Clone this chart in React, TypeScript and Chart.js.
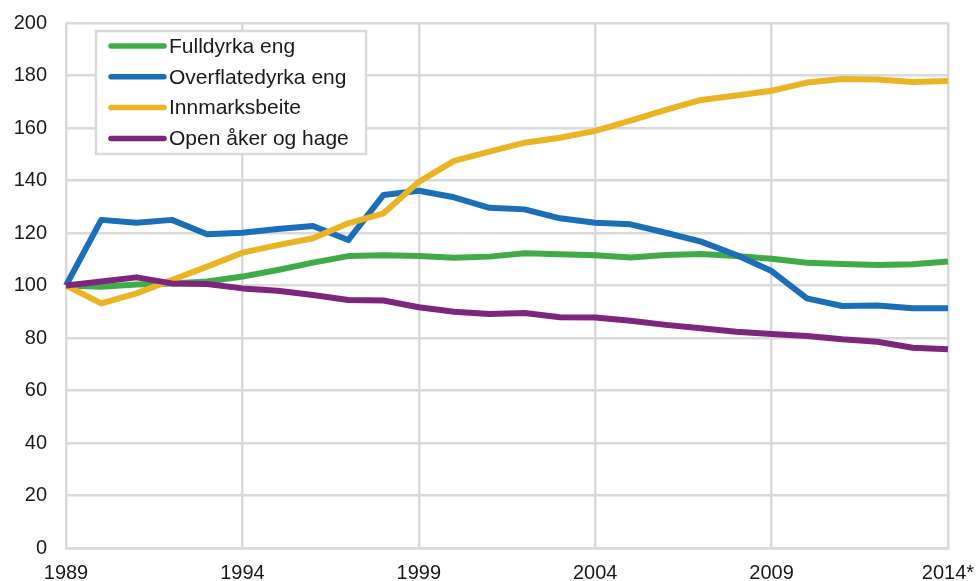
import React, { useEffect, useRef } from "react";
import { Chart, registerables } from "chart.js";

Chart.register(...registerables);

const years = [
  "1989", "1990", "1991", "1992", "1993", "1994", "1995", "1996", "1997", "1998",
  "1999", "2000", "2001", "2002", "2003", "2004", "2005", "2006", "2007", "2008",
  "2009", "2010", "2011", "2012", "2013", "2014*",
];

const seriesNames = ["Fulldyrka eng", "Overflatedyrka eng", "Innmarksbeite", "Open åker og hage"];

const fulldyrka = [100, 99.5, 100.4, 100.8, 101.5, 103.4, 105.9, 108.7, 111.2, 111.5, 111.2, 110.6, 111.0, 112.3, 111.9, 111.5, 110.7, 111.6, 112.0, 111.2, 110.2, 108.7, 108.2, 107.8, 108.1, 109.1];
const overflatedyrka = [100, 125, 123.9, 125, 119.5, 120.1, 121.5, 122.7, 117.3, 134.5, 136.1, 133.6, 129.6, 129.0, 125.6, 123.9, 123.3, 120.1, 116.7, 111.6, 105.5, 95.1, 92.2, 92.4, 91.3, 91.3];
const innmarksbeite = [100, 93.2, 97.0, 102.1, 107.2, 112.5, 115.4, 118.0, 123.7, 127.5, 139.5, 147.5, 151.0, 154.4, 156.3, 158.9, 162.8, 166.9, 170.7, 172.4, 174.2, 177.3, 178.7, 178.5, 177.5, 177.9];
const openAker = [100, 101.5, 103.1, 100.8, 100.6, 98.9, 98.0, 96.4, 94.5, 94.3, 91.7, 90.0, 89.1, 89.5, 87.9, 87.8, 86.6, 85.0, 83.7, 82.4, 81.5, 80.8, 79.5, 78.6, 76.3, 75.7];

const colors = ["#41ab4a", "#1b6fb8", "#ebb424", "#7e267d"];
const GRID = "#dadada";
const FONT = "'Liberation Sans', Arial, sans-serif";

const boxLegend = {
  id: "boxLegend",
  afterDraw(chart: any) {
    const ctx = chart.ctx;
    const x0 = 96, y0 = 31, w = 270, h = 123;
    ctx.save();
    ctx.fillStyle = "#ffffff";
    ctx.fillRect(x0, y0, w, h);
    ctx.strokeStyle = GRID;
    ctx.lineWidth = 2.5;
    ctx.strokeRect(x0, y0, w, h);
    chart.data.datasets.forEach((ds: any, i: number) => {
      const y = 46 + i * 30.8;
      ctx.strokeStyle = ds.borderColor;
      ctx.lineWidth = 5.5;
      ctx.lineCap = "round";
      ctx.beginPath();
      ctx.moveTo(111, y);
      ctx.lineTo(164, y);
      ctx.stroke();
      ctx.fillStyle = "#1a1a1a";
      ctx.font = `21px ${FONT}`;
      ctx.textBaseline = "middle";
      ctx.textAlign = "left";
      ctx.fillText(ds.label, 169, y + 1);
    });
    ctx.restore();
  },
};

export default function App() {
  const ref = useRef<HTMLCanvasElement>(null);
  useEffect(() => {
    document.body.style.margin = "0";
    const data = [fulldyrka, overflatedyrka, innmarksbeite, openAker];
    const chart = new Chart(ref.current!, {
      type: "line",
      data: {
        labels: years,
        datasets: data.map((d, i) => ({
          label: seriesNames[i],
          data: d,
          borderColor: colors[i],
          backgroundColor: colors[i],
          borderWidth: 6,
          pointRadius: 0,
          tension: 0,
          borderJoinStyle: "round" as const,
          order: 4 - i,
        })),
      },
      options: {
        animation: false,
        responsive: false,
        maintainAspectRatio: false,
        layout: { padding: { top: 23, right: 28, left: 0, bottom: 0 } },
        plugins: { legend: { display: false }, tooltip: { enabled: false } },
        scales: {
          x: {
            type: "category",
            offset: false,
            grid: {
              drawTicks: false,
              lineWidth: 2.5,
              color: (c: any) => (c.index % 5 === 0 ? GRID : "rgba(0,0,0,0)"),
            },
            border: { display: true, color: GRID, width: 2.5 },
            ticks: {
              autoSkip: false,
              maxRotation: 0,
              padding: 13,
              color: "#1a1a1a",
              font: { family: FONT, size: 20 },
              callback: (_v: any, i: number) => (i % 5 === 0 ? years[i] : ""),
            },
            afterFit: (s: any) => { s.height = 33; s.paddingLeft = 0; s.paddingRight = 0; },
          },
          y: {
            min: 0,
            max: 200,
            grid: { drawTicks: false, lineWidth: 2.5, color: GRID },
            border: { display: false },
            ticks: {
              stepSize: 20,
              padding: 19,
              color: "#1a1a1a",
              font: { family: FONT, size: 20 },
            },
            afterFit: (s: any) => { s.width = 66; s.paddingTop = 0; s.paddingBottom = 0; },
          },
        },
      },
      plugins: [boxLegend],
    });
    return () => chart.destroy();
  }, []);
  return <canvas ref={ref} width={976} height={581} style={{ display: "block" }} />;
}
